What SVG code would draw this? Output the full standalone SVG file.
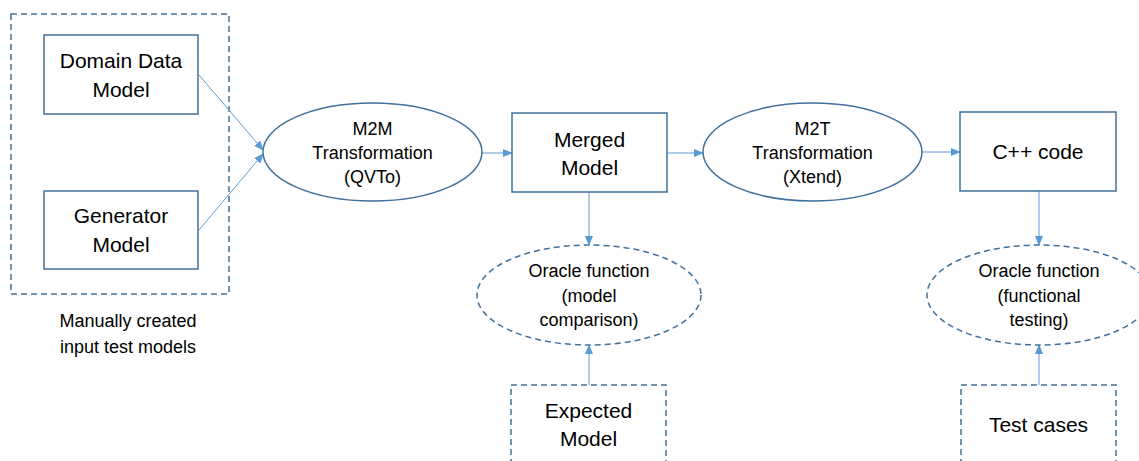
<svg xmlns="http://www.w3.org/2000/svg" width="1139" height="461" viewBox="0 0 1139 461">
<defs>
<marker id="arr" markerWidth="10" markerHeight="8" refX="9" refY="4" orient="auto" markerUnits="userSpaceOnUse">
<path d="M0,0 L10,4 L0,8 Z" fill="#5B9BD5"/>
</marker>
<style>
.box{fill:#fff;stroke:#41719C;stroke-width:1.5}
.dash{fill:#fff;stroke:#41719C;stroke-width:1.5;stroke-dasharray:6 4}
.dashn{fill:none;stroke:#41719C;stroke-width:1.5;stroke-dasharray:6 4}
.con{fill:none;stroke:#5B9BD5;stroke-width:1;marker-end:url(#arr)}
.t{font-family:"Liberation Sans",Arial,sans-serif;fill:#000;text-anchor:middle}
.big{font-size:21px}
.sm{font-size:18px}
</style>
</defs>
<rect width="1139" height="461" fill="#fff"/>
<g id="group-inputs">
<rect class="dashn" x="11" y="14" width="218" height="280"/>
<text class="t sm" x="128" y="327">Manually created</text>
<text class="t sm" x="128" y="353">input test models</text>
</g>
<g id="connectors">
<line class="con" x1="199" y1="75" x2="263" y2="150"/>
<line class="con" x1="199" y1="230" x2="263" y2="154"/>
<line class="con" x1="482" y1="153" x2="512" y2="153"/>
<line class="con" x1="667" y1="153" x2="703" y2="153"/>
<line class="con" x1="922" y1="152" x2="960" y2="152"/>
<line class="con" x1="589" y1="192" x2="589" y2="245"/>
<line class="con" x1="589" y1="385" x2="589" y2="345"/>
<line class="con" x1="1039" y1="191" x2="1039" y2="245"/>
<line class="con" x1="1039" y1="385" x2="1039" y2="345"/>
</g>
<g id="domain">
<rect class="box" x="44" y="35" width="154" height="79"/>
<text class="t big" x="121" y="68">Domain Data</text>
<text class="t big" x="121" y="97">Model</text>
</g>
<g id="generator">
<rect class="box" x="44" y="191" width="154" height="78"/>
<text class="t big" x="121" y="223">Generator</text>
<text class="t big" x="121" y="252">Model</text>
</g>
<g id="m2m">
<ellipse class="box" cx="372.5" cy="152" rx="109.5" ry="49"/>
<text class="t sm" x="372.5" y="135">M2M</text>
<text class="t sm" x="372.5" y="159">Transformation</text>
<text class="t sm" x="372.5" y="183">(QVTo)</text>
</g>
<g id="merged">
<rect class="box" x="512" y="113" width="155" height="79"/>
<text class="t big" x="589.5" y="147">Merged</text>
<text class="t big" x="589.5" y="175">Model</text>
</g>
<g id="m2t">
<ellipse class="box" cx="812.5" cy="152" rx="109.5" ry="49"/>
<text class="t sm" x="812.5" y="135">M2T</text>
<text class="t sm" x="812.5" y="159">Transformation</text>
<text class="t sm" x="812.5" y="183">(Xtend)</text>
</g>
<g id="cpp">
<rect class="box" x="960" y="112" width="156" height="79"/>
<text class="t big" x="1038" y="159">C++ code</text>
</g>
<g id="oracle1">
<ellipse class="dash" cx="589" cy="295" rx="112" ry="50"/>
<text class="t sm" x="589" y="277">Oracle function</text>
<text class="t sm" x="589" y="302">(model</text>
<text class="t sm" x="589" y="326">comparison)</text>
</g>
<g id="oracle2">
<ellipse class="dash" cx="1039" cy="295" rx="112" ry="50"/>
<text class="t sm" x="1039" y="277">Oracle function</text>
<text class="t sm" x="1039" y="302">(functional</text>
<text class="t sm" x="1039" y="326">testing)</text>
</g>
<g id="expected">
<rect class="dash" x="511" y="385" width="155" height="90"/>
<text class="t big" x="588.5" y="418">Expected</text>
<text class="t big" x="588.5" y="446">Model</text>
</g>
<g id="testcases">
<rect class="dash" x="961" y="385" width="155" height="90"/>
<text class="t big" x="1038.5" y="432">Test cases</text>
</g>
</svg>
